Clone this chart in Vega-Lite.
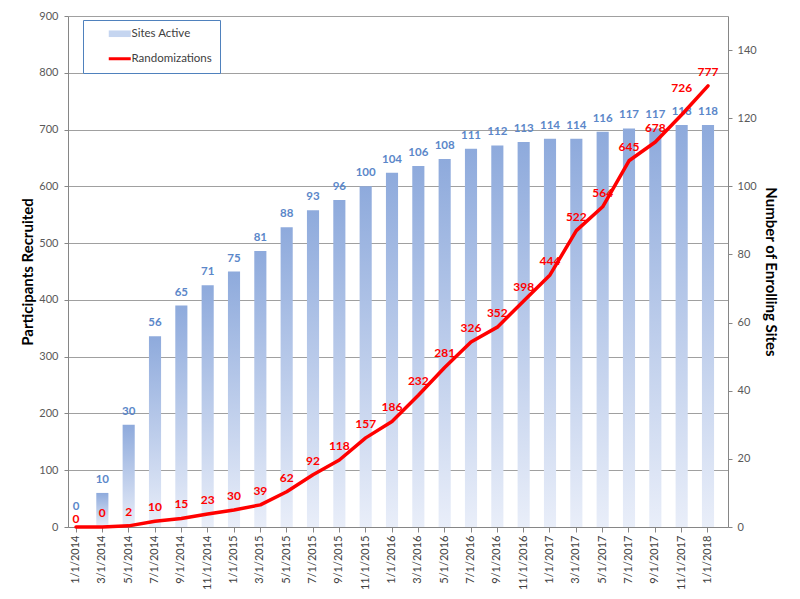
{
  "$schema": "https://vega.github.io/schema/vega-lite/v6.json",
  "width": 660,
  "height": 511,
  "autosize": {"type": "none"},
  "padding": {"left": 68, "top": 16, "right": 72, "bottom": 72},
  "background": "white",
  "config": {
    "view": {"stroke": null},
    "font": "Lato",
    "axis": {"labelFont": "Lato", "titleFont": "Lato"}
  },
  "data": {
    "values": [
      {"date": "1/1/2014", "sites": 0, "rand": 0},
      {"date": "3/1/2014", "sites": 10, "rand": 0},
      {"date": "5/1/2014", "sites": 30, "rand": 2},
      {"date": "7/1/2014", "sites": 56, "rand": 10},
      {"date": "9/1/2014", "sites": 65, "rand": 15},
      {"date": "11/1/2014", "sites": 71, "rand": 23},
      {"date": "1/1/2015", "sites": 75, "rand": 30},
      {"date": "3/1/2015", "sites": 81, "rand": 39},
      {"date": "5/1/2015", "sites": 88, "rand": 62},
      {"date": "7/1/2015", "sites": 93, "rand": 92},
      {"date": "9/1/2015", "sites": 96, "rand": 118},
      {"date": "11/1/2015", "sites": 100, "rand": 157},
      {"date": "1/1/2016", "sites": 104, "rand": 186},
      {"date": "3/1/2016", "sites": 106, "rand": 232},
      {"date": "5/1/2016", "sites": 108, "rand": 281},
      {"date": "7/1/2016", "sites": 111, "rand": 326},
      {"date": "9/1/2016", "sites": 112, "rand": 352},
      {"date": "11/1/2016", "sites": 113, "rand": 398},
      {"date": "1/1/2017", "sites": 114, "rand": 444},
      {"date": "3/1/2017", "sites": 114, "rand": 522},
      {"date": "5/1/2017", "sites": 116, "rand": 564},
      {"date": "7/1/2017", "sites": 117, "rand": 645},
      {"date": "9/1/2017", "sites": 117, "rand": 678},
      {"date": "11/1/2017", "sites": 118, "rand": 726},
      {"date": "1/1/2018", "sites": 118, "rand": 777}
    ]
  },
  "encoding": {
    "x": {
      "field": "date",
      "type": "ordinal",
      "sort": null,
      "scale": {"paddingInner": 0.54, "paddingOuter": 0.302, "align": 0.123},
      "axis": {
        "title": null,
        "labelAngle": -90,
        "labelAlign": "right",
        "labelBaseline": "middle",
        "labelFontSize": 11,
        "labelColor": "#404040",
        "labelPadding": 3,
        "tickSize": 5,
        "tickColor": "#868686",
        "domainColor": "#868686",
        "grid": false
      }
    }
  },
  "layer": [
    {
      "encoding": {
        "y": {
          "field": "sites",
          "type": "quantitative",
          "scale": {"domain": [0, 150], "nice": false},
          "axis": {
            "orient": "right",
            "values": [0, 20, 40, 60, 80, 100, 120, 140],
            "grid": false,
            "title": "Number of Enrolling Sites",
            "titleFontSize": 15,
            "titleFontWeight": "bold",
            "titleColor": "#000000",
            "titlePadding": 6,
            "labelFontSize": 11,
            "labelColor": "#595959",
            "labelPadding": 5,
            "tickSize": 4,
            "tickColor": "#868686",
            "domainColor": "#868686"
          }
        }
      },
      "layer": [
        {
          "mark": {
            "type": "bar",
            "strokeWidth": 0,
            "fill": {
              "gradient": "linear",
              "x1": 0, "y1": 0, "x2": 0, "y2": 1,
              "stops": [
                {"offset": 0, "color": "#8eaadc"},
                {"offset": 1, "color": "#e9eef9"}
              ]
            }
          },
          "encoding": {
            "stroke": {
              "datum": "Sites Active",
              "type": "nominal",
              "scale": {"domain": ["Sites Active", "Randomizations"], "range": ["#c5d5f0", "#ff0000"]},
              "legend": {
                "orient": "none",
                "legendX": 15,
                "legendY": 4,
                "direction": "vertical",
                "title": null,
                "strokeColor": "#4f81bd",
                "fillColor": "white",
                "padding": 8,
                "symbolOffset": 23,
                "symbolSize": 484,
                "symbolType": "M-1,-0.3H1V0.3H-1Z",
                "rowPadding": 12,
                "labelOffset": 6,
                "labelFontSize": 11.5,
                "labelFont": "Lato",
                "labelColor": "#404040"
              }
            }
          }
        },
        {
          "transform": [{"filter": "datum.date !== '1/1/2014'"}],
          "mark": {"type": "text", "dy": -13, "baseline": "middle", "align": "center", "fontWeight": "bold", "fontSize": 11.5, "color": "#5b87c9"},
          "encoding": {"text": {"field": "sites", "type": "quantitative"}}
        },
        {
          "transform": [{"filter": "datum.date === '1/1/2014'"}],
          "mark": {"type": "text", "dy": -20, "baseline": "middle", "align": "center", "fontWeight": "bold", "fontSize": 11.5, "color": "#5b87c9"},
          "encoding": {"text": {"field": "sites", "type": "quantitative"}}
        }
      ]
    },
    {
      "encoding": {
        "y": {
          "field": "rand",
          "type": "quantitative",
          "scale": {"domain": [0, 900], "nice": false},
          "axis": {
            "orient": "left",
            "values": [0, 100, 200, 300, 400, 500, 600, 700, 800, 900],
            "grid": true,
            "gridColor": "#a0a0a0",
            "gridWidth": 1,
            "title": "Participants Recruited",
            "titleFontSize": 15,
            "titleFontWeight": "bold",
            "titleColor": "#000000",
            "titlePadding": 3,
            "labelFontSize": 11,
            "labelColor": "#595959",
            "labelPadding": 6,
            "tickSize": 4,
            "tickColor": "#868686",
            "domainColor": "#868686"
          }
        }
      },
      "layer": [
        {
          "mark": {"type": "line", "strokeWidth": 3.5, "strokeJoin": "round", "strokeCap": "round"},
          "encoding": {
            "stroke": {
              "datum": "Randomizations",
              "type": "nominal",
              "legend": {
                "encode": {
                  "symbols": {
                    "update": {
                      "shape": {"signal": "datum.value === 'Sites Active' ? 'M-1,-0.3H1V0.3H-1Z' : 'stroke'"},
                      "fill": {"signal": "datum.value === 'Sites Active' ? '#c5d5f0' : 'transparent'"},
                      "stroke": {"signal": "datum.value === 'Sites Active' ? 'transparent' : '#ff0000'"},
                      "strokeWidth": {"signal": "datum.value === 'Sites Active' ? 0 : 3"}
                    }
                  }
                }
              }
            }
          }
        },
        {
          "transform": [{"filter": "datum.date !== '11/1/2017' && datum.date !== '1/1/2014'"}],
          "mark": {"type": "text", "dy": -14, "baseline": "middle", "align": "center", "fontWeight": "bold", "fontSize": 12, "color": "#ff0000"},
          "encoding": {"text": {"field": "rand", "type": "quantitative"}}
        },
        {
          "transform": [{"filter": "datum.date === '11/1/2017'"}],
          "mark": {"type": "text", "dy": -27, "baseline": "middle", "align": "center", "fontWeight": "bold", "fontSize": 12, "color": "#ff0000"},
          "encoding": {"text": {"field": "rand", "type": "quantitative"}}
        },
        {
          "transform": [{"filter": "datum.date === '1/1/2014'"}],
          "mark": {"type": "text", "dy": -8, "baseline": "middle", "align": "center", "fontWeight": "bold", "fontSize": 12, "color": "#ff0000"},
          "encoding": {"text": {"field": "rand", "type": "quantitative"}}
        }
      ]
    }
  ],
  "resolve": {"scale": {"y": "independent"}}
}
